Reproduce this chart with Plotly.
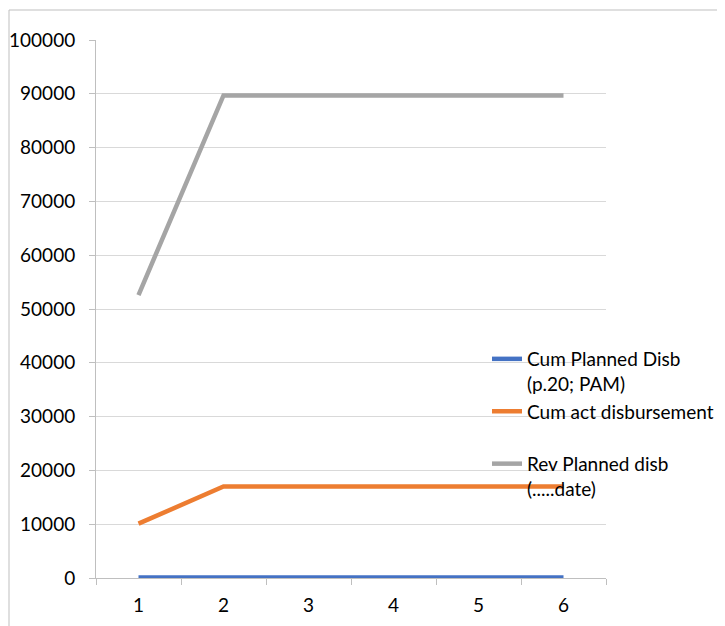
import plotly.graph_objects as go

categories = ["1", "2", "3", "4", "5", "6"]
cum_planned = [100, 100, 100, 100, 100, 100]
cum_actual = [10100, 17000, 17000, 17000, 17000, 17000]
rev_planned = [52600, 89700, 89700, 89700, 89700, 89700]
y_ticks = list(range(0, 100001, 10000))

OFF = 8  # default body margin of the html page
W, H = 725 - OFF, 626 - OFF
L, T = 96 - OFF, 40 - OFF
pw, ph = 510, 538
R, B = W - L - pw, H - T - ph

def px_x(x):
    return (x - OFF - L) / pw

def px_y(y):
    return (H - B - (y - OFF)) / ph

font = "Lato, Noto Sans, sans-serif"
fig = go.Figure()
fig.add_trace(go.Scatter(x=categories, y=cum_planned, mode="lines",
                         name="Cum Planned Disb<br>(p.20; PAM)",
                         line=dict(color="#4472C4", width=4.5)))
fig.add_trace(go.Scatter(x=categories, y=cum_actual, mode="lines",
                         name="Cum act disbursement<br> ",
                         line=dict(color="#ED7D31", width=4.5)))
fig.add_trace(go.Scatter(x=categories, y=rev_planned, mode="lines",
                         name="Rev Planned disb<br>(.....date)",
                         line=dict(color="#A5A5A5", width=4.5)))

fig.update_layout(
    width=W, height=H,
    margin=dict(l=L, r=R, t=T, b=B, pad=0, autoexpand=False),
    paper_bgcolor="white", plot_bgcolor="white",
    font=dict(family=font, size=19, color="#000000"),
    legend=dict(x=px_x(487), y=px_y(340), xanchor="left", yanchor="top",
                valign="top", font=dict(size=19), tracegroupgap=0,
                itemwidth=30, bgcolor="rgba(0,0,0,0)"),
    xaxis=dict(type="category", range=[-0.5, 5.5], showgrid=False,
               showline=True, linecolor="#BFBFBF", linewidth=1,
               ticks="outside", tickson="boundaries", ticklen=6,
               tickcolor="#BFBFBF", tickfont=dict(size=19),
               ticklabelstandoff=10, automargin=False),
    yaxis=dict(range=[0, 100000], tickvals=y_ticks, showgrid=True,
               gridcolor="#D9D9D9", gridwidth=1, showline=True,
               linecolor="#BFBFBF", linewidth=1, ticks="outside",
               ticklen=6, tickcolor="#BFBFBF", zeroline=False,
               tickfont=dict(size=19), tickformat="d",
               ticklabelstandoff=10, automargin=False),
    shapes=[
        dict(type="line", xref="paper", yref="paper",
             x0=px_x(9), x1=px_x(725), y0=px_y(10), y1=px_y(10),
             line=dict(color="#BFBFBF", width=1)),
        dict(type="line", xref="paper", yref="paper",
             x0=px_x(9), x1=px_x(9), y0=px_y(10), y1=px_y(626),
             line=dict(color="#BFBFBF", width=1)),
    ],
)
fig.write_html("out.html")
